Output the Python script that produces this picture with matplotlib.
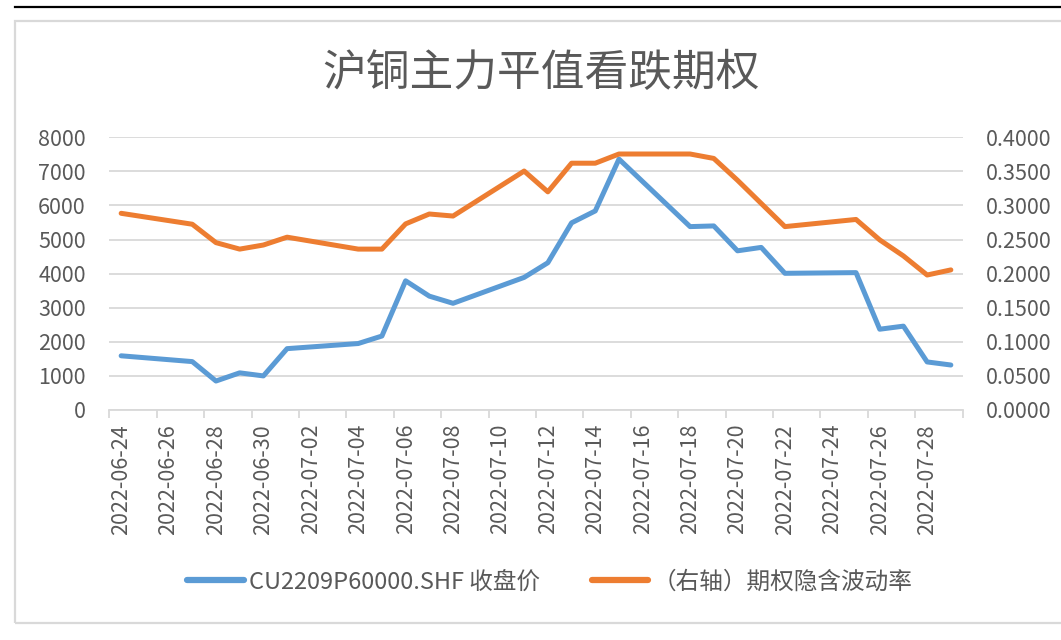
import numpy as np
import pandas as pd
import matplotlib
matplotlib.use('Agg')
import matplotlib.pyplot as plt
from matplotlib.patches import Rectangle
from matplotlib.lines import Line2D
from matplotlib.ticker import FormatStrFormatter

plt.rcParams['font.family'] = ['Noto Sans CJK SC', 'DejaVu Sans']

title = '沪铜主力平值看跌期权'
name_close = 'CU2209P60000.SHF 收盘价'
name_iv = '（右轴）期权隐含波动率'

dates = ['2022-06-24', '2022-06-27', '2022-06-28', '2022-06-29', '2022-06-30',
         '2022-07-01', '2022-07-04', '2022-07-05', '2022-07-06', '2022-07-07',
         '2022-07-08', '2022-07-11', '2022-07-12', '2022-07-13', '2022-07-14',
         '2022-07-15', '2022-07-18', '2022-07-19', '2022-07-20', '2022-07-21',
         '2022-07-22', '2022-07-25', '2022-07-26', '2022-07-27', '2022-07-28',
         '2022-07-29']
close = [1590, 1420, 850, 1090, 1000, 1800, 1950, 2170, 3790, 3340,
         3130, 3890, 4320, 5490, 5840, 7360, 5380, 5400, 4670, 4770,
         4010, 4030, 2370, 2460, 1410, 1320]
iv = [0.2885, 0.2725, 0.2455, 0.2360, 0.2420, 0.2535, 0.2360, 0.2360, 0.2730, 0.2875,
      0.2845, 0.3505, 0.3200, 0.3620, 0.3620, 0.3755, 0.3755, 0.3690, 0.3370, 0.3030,
      0.2690, 0.2795, 0.2495, 0.2260, 0.1980, 0.2055]

blue = '#5b9bd5'
orange = '#ed7d31'
grey = '#d9d9d9'
txt = '#595959'

d = pd.to_datetime(dates)
x = np.array((d - d[0]).days)
tick_days = np.arange(0, 35, 2)
tick_labels = [(d[0] + pd.Timedelta(days=int(k))).strftime('%Y-%m-%d') for k in tick_days]

fig = plt.figure(figsize=(10.61, 6.4), dpi=100)
W, H = 1061, 640
ax = fig.add_axes([109.3 / W, 1 - 410 / H, (962.7 - 109.3) / W, (410 - 137.3) / H])
ax2 = ax.twinx()

ax.plot(x, close, color=blue, lw=3.6, solid_joinstyle='round', solid_capstyle='round')
ax2.plot(x, iv, color=orange, lw=3.6, solid_joinstyle='round', solid_capstyle='round')

ax.set_xlim(-0.5, 35.5)
ax.set_ylim(0, 8000)
ax.set_yticks(np.arange(0, 8001, 1000))
ax2.set_ylim(0, 0.4)
ax2.set_yticks(np.arange(0, 0.401, 0.05))
ax2.yaxis.set_major_formatter(FormatStrFormatter('%.4f'))

ax.grid(axis='y', color=grey, lw=1.3)
ax.set_axisbelow(True)
for a in (ax, ax2):
    for s in ['top', 'left', 'right', 'bottom']:
        a.spines[s].set_visible(False)
ax.spines['bottom'].set_visible(True)
ax.spines['bottom'].set_color(grey)
ax.spines['bottom'].set_linewidth(1.3)

ax.set_xticks(tick_days, tick_labels, rotation=90)
ax.set_xticks(np.arange(-0.5, 36, 2), minor=True)
ax.tick_params(axis='x', which='major', length=0, pad=10, labelsize=15.5, labelcolor=txt)
ax.tick_params(axis='x', which='minor', length=6, width=1.3, color=grey)
ax.tick_params(axis='y', length=0, pad=17, labelsize=15.5, labelcolor=txt)
ax2.tick_params(axis='y', length=0, pad=17, labelsize=15.5, labelcolor=txt)

fig.text(541 / W, 1 - 73 / H, title, ha='center', va='center', fontsize=31.5, color=txt)

handles = [Line2D([], [], color=blue, lw=4.5, solid_capstyle='round'),
           Line2D([], [], color=orange, lw=4.5, solid_capstyle='round')]
fig.legend(handles, [name_close, name_iv], loc='center', bbox_to_anchor=(550 / W, 1 - 582 / H),
           ncol=2, frameon=False, handlelength=2.4, handletextpad=0.2, columnspacing=2.2,
           fontsize=17, labelcolor=txt)

# outer chart frame and the dark line at the very top
fig.add_artist(Rectangle((15 / W, 1 - 623 / H), 1.2, (623 - 21) / H, transform=fig.transFigure,
                         fill=False, edgecolor=grey, lw=1.6))
fig.add_artist(Line2D([15 / W, 1], [1 - 7 / H, 1 - 7 / H], transform=fig.transFigure,
                      color='black', lw=1.6))

fig.savefig('out.png', dpi=100, facecolor='white')
